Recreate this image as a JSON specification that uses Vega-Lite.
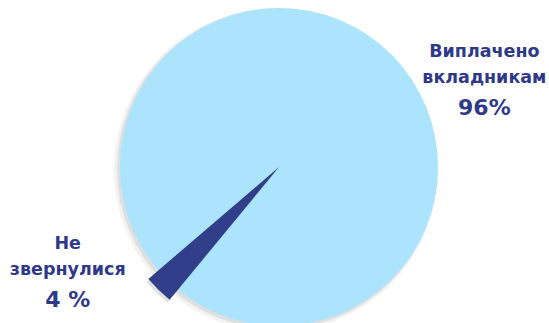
{
  "$schema": "https://vega.github.io/schema/vega-lite/v6.json",
  "width": 540,
  "height": 312,
  "padding": {"left": 9, "top": 11, "right": 0, "bottom": 0},
  "autosize": {"type": "none"},
  "background": "white",
  "view": {"stroke": null},
  "data": {"values": [
    {"name": "Виплачено вкладникам", "pct": "96%", "value": 96},
    {"name": "Не звернулися", "pct": "4 %", "value": 4}
  ]},
  "layer": [
    {
      "transform": [{"filter": "datum.value == 96"}],
      "mark": {"type": "arc", "radius": 162, "color": "#000000", "opacity": 0.05, "xOffset": -3, "yOffset": 3},
      "encoding": {"theta": {"field": "value", "type": "quantitative", "stack": true, "scale": {"domain": [0, 96], "range": [0, 6.2832]}}}
    },
    {
      "transform": [{"filter": "datum.value == 96"}],
      "mark": {"type": "arc", "radius": 160, "color": "#000000", "opacity": 0.08, "xOffset": -2, "yOffset": 2},
      "encoding": {"theta": {"field": "value", "type": "quantitative", "stack": true, "scale": {"domain": [0, 96], "range": [0, 6.2832]}}}
    },
    {
      "transform": [{"filter": "datum.value == 96"}],
      "mark": {"type": "arc", "radius": 159, "color": "#ade4fd"},
      "encoding": {"theta": {"field": "value", "type": "quantitative", "stack": true, "scale": {"domain": [0, 96], "range": [0, 6.2832]}}}
    },
    {
      "transform": [{"filter": "datum.value == 4"}],
      "mark": {"type": "arc", "radius": 172, "color": "#000000", "opacity": 0.12, "xOffset": -2, "yOffset": 3},
      "encoding": {"theta": {"field": "value", "type": "quantitative", "stack": true, "scale": {"domain": [0, 4], "range": [3.831, 4.004]}}}
    },
    {
      "transform": [{"filter": "datum.value == 4"}],
      "mark": {"type": "arc", "radius": 172, "color": "#313f8a"},
      "encoding": {"theta": {"field": "value", "type": "quantitative", "stack": true, "scale": {"domain": [0, 4], "range": [3.831, 4.004]}}}
    },
    {
      "mark": {"type": "text", "font": "DejaVu Sans", "fontWeight": "bold", "fontSize": 17.5, "color": "#2e3a87", "lineBreak": " ", "lineHeight": 26, "baseline": "middle", "align": "center", "dy": -28},
      "encoding": {
        "theta": {"field": "value", "type": "quantitative", "stack": true, "scale": {"domain": [0, 100], "range": [-1.787, 4.374]}},
        "order": {"field": "value", "type": "quantitative", "sort": "descending"},
        "radius": {"field": "value", "type": "quantitative", "scale": {"type": "linear", "zero": false, "domain": [4, 96], "range": [236, 223]}},
        "text": {"field": "name", "type": "nominal"}
      }
    },
    {
      "mark": {"type": "text", "font": "DejaVu Sans", "fontWeight": "bold", "fontSize": 22, "color": "#2e3a87", "baseline": "middle", "align": "center", "dy": 28},
      "encoding": {
        "theta": {"field": "value", "type": "quantitative", "stack": true, "scale": {"domain": [0, 100], "range": [-1.787, 4.374]}},
        "order": {"field": "value", "type": "quantitative", "sort": "descending"},
        "radius": {"field": "value", "type": "quantitative", "scale": {"type": "linear", "zero": false, "domain": [4, 96], "range": [236, 223]}},
        "text": {"field": "pct", "type": "nominal"}
      }
    }
  ],
  "resolve": {"scale": {"theta": "independent", "radius": "independent"}}
}
